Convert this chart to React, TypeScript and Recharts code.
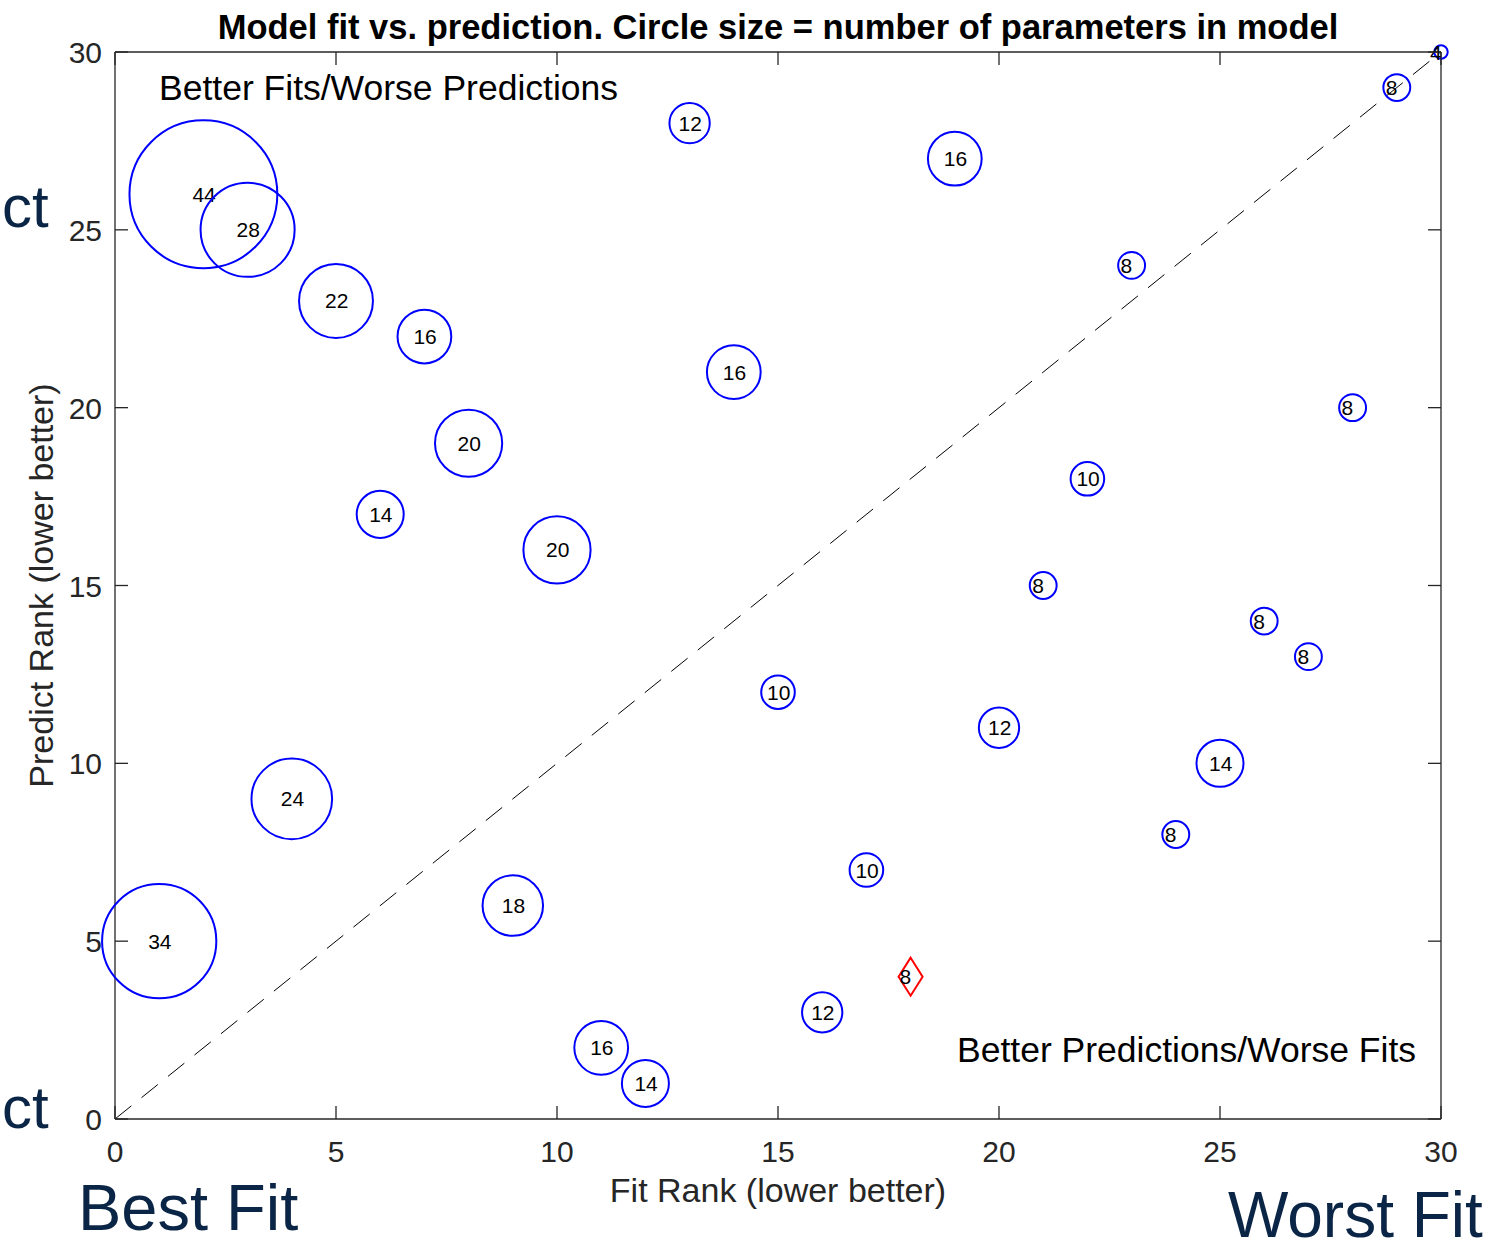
import React from "react";
import { ScatterChart, Scatter, XAxis, YAxis, ReferenceLine } from "recharts";

// ---- data ----
const fitRanks = [1, 2, 3, 4, 5, 6, 7, 8, 9, 10, 11, 12, 13, 14, 15, 16, 17, 18, 19, 20, 21, 22, 23, 24, 25, 26, 27, 28, 29, 30];
const predictRanks = [5, 26, 25, 9, 23, 17, 22, 19, 6, 16, 2, 1, 28, 21, 12, 3, 7, 4, 27, 11, 15, 18, 24, 8, 10, 14, 13, 20, 29, 30];
const paramCounts = [34, 44, 28, 24, 22, 14, 16, 20, 18, 20, 16, 14, 12, 16, 10, 12, 10, 8, 16, 12, 8, 10, 8, 8, 14, 8, 8, 8, 8, 4];
const highlightedFitRank = 18;
const axisTicks = [0, 5, 10, 15, 20, 25, 30];
const axisDomain = [0, 30];
const diagonalEnds = [0, 30];

const titleText = "Model fit vs. prediction. Circle size = number of parameters in model";
const xLabelText = "Fit Rank (lower better)";
const yLabelText = "Predict Rank (lower better)";
const topLeftNote = "Better Fits/Worse Predictions";
const bottomRightNote = "Better Predictions/Worse Fits";
const bestFitText = "Best Fit";
const worstFitText = "Worst Fit";
const cutText = "ct";

const models = fitRanks.map((fit, i) => ({ fit, predict: predictRanks[i], params: paramCounts[i] }));
const circleModels = models.filter((m) => m.fit !== highlightedFitRank);
const highlightModels = models.filter((m) => m.fit === highlightedFitRank);

// ---- layout / style ----
const W = 1499;
const H = 1253;
const PLOT = { left: 115, right: 1441, top: 52, bottom: 1119 };
const X_AXIS_H = 60;
const Y_AXIS_W = 100;
const TOP_AXIS_H = 10;
const RIGHT_AXIS_W = 10;
const M = {
  top: PLOT.top - TOP_AXIS_H,
  right: W - PLOT.right - RIGHT_AXIS_W,
  bottom: H - PLOT.bottom - X_AXIS_H,
  left: PLOT.left - Y_AXIS_W,
};
const FONT = "'Liberation Sans', Arial, Helvetica, sans-serif";
const AXIS_COLOR = "#262626";
const NAVY = "#0b2546";
const PX_PER_PARAM = 1.68;
const TICK_LEN = 13;

const CircleShape = (props: any) => {
  const { cx, cy, payload } = props;
  const r = payload.params * PX_PER_PARAM;
  return (
    <g>
      <circle cx={cx} cy={cy} r={r} fill="none" stroke="#0000ff" strokeWidth={2} />
      <text x={cx - 11} y={cy + 7.5} fontSize={21} fontFamily={FONT} fill="#000">
        {payload.params}
      </text>
    </g>
  );
};

const DiamondShape = (props: any) => {
  const { cx, cy, payload } = props;
  const hw = 12;
  const hh = 19;
  return (
    <g>
      <path
        d={`M${cx},${cy - hh} L${cx + hw},${cy} L${cx},${cy + hh} L${cx - hw},${cy} Z`}
        fill="none"
        stroke="#ff0000"
        strokeWidth={2}
      />
      <text x={cx - 11} y={cy + 7.5} fontSize={21} fontFamily={FONT} fill="#000">
        {payload.params}
      </text>
    </g>
  );
};

const NoShape = () => <g />;

const BottomTick = (props: any) => {
  const { x, y, payload } = props;
  return (
    <g>
      <line x1={x} x2={x} y1={y} y2={y - TICK_LEN} stroke={AXIS_COLOR} strokeWidth={1.3} />
      <text x={x} y={y + 43} textAnchor="middle" fontSize={30} fontFamily={FONT} fill={AXIS_COLOR}>
        {payload.value}
      </text>
    </g>
  );
};

const LeftTick = (props: any) => {
  const { x, y, payload } = props;
  return (
    <g>
      <line x1={x} x2={x + TICK_LEN} y1={y} y2={y} stroke={AXIS_COLOR} strokeWidth={1.3} />
      <text x={x - 13} y={y + 11} textAnchor="end" fontSize={30} fontFamily={FONT} fill={AXIS_COLOR}>
        {payload.value}
      </text>
    </g>
  );
};

const TopTick = (props: any) => {
  const { x, y } = props;
  return <line x1={x} x2={x} y1={y} y2={y + TICK_LEN} stroke={AXIS_COLOR} strokeWidth={1.3} />;
};

const RightTick = (props: any) => {
  const { x, y } = props;
  return <line x1={x} x2={x - TICK_LEN} y1={y} y2={y} stroke={AXIS_COLOR} strokeWidth={1.3} />;
};

export default function App() {
  const plotCx = (PLOT.left + PLOT.right) / 2;
  const plotCy = (PLOT.top + PLOT.bottom) / 2;
  return (
    <div style={{ position: "absolute", left: 0, top: 0, width: W, height: H, background: "#fff" }}>
      <ScatterChart width={W} height={H} margin={M}>
        <XAxis
          dataKey="fit"
          type="number"
          domain={axisDomain}
          ticks={axisTicks}
          interval={0}
          height={X_AXIS_H}
          tickSize={0}
          tickMargin={0}
          tickLine={false}
          tick={<BottomTick />}
          axisLine={{ stroke: AXIS_COLOR, strokeWidth: 1.3 }}
        />
        <YAxis
          dataKey="predict"
          type="number"
          domain={axisDomain}
          ticks={axisTicks}
          interval={0}
          width={Y_AXIS_W}
          tickSize={0}
          tickMargin={0}
          tickLine={false}
          tick={<LeftTick />}
          axisLine={{ stroke: AXIS_COLOR, strokeWidth: 1.3 }}
        />
        <XAxis
          xAxisId="top"
          orientation="top"
          dataKey="fit"
          type="number"
          domain={axisDomain}
          ticks={axisTicks}
          interval={0}
          height={TOP_AXIS_H}
          tickSize={0}
          tickMargin={0}
          tickLine={false}
          tick={<TopTick />}
          axisLine={{ stroke: AXIS_COLOR, strokeWidth: 1.3 }}
        />
        <YAxis
          yAxisId="right"
          orientation="right"
          dataKey="predict"
          type="number"
          domain={axisDomain}
          ticks={axisTicks}
          interval={0}
          width={RIGHT_AXIS_W}
          tickSize={0}
          tickMargin={0}
          tickLine={false}
          tick={<RightTick />}
          axisLine={{ stroke: AXIS_COLOR, strokeWidth: 1.3 }}
        />
        <ReferenceLine
          segment={[
            { x: diagonalEnds[0], y: diagonalEnds[0] },
            { x: diagonalEnds[1], y: diagonalEnds[1] },
          ]}
          stroke="#000"
          strokeWidth={1}
          strokeDasharray="21 13"
        />
        <Scatter
          data={models}
          xAxisId="top"
          yAxisId="right"
          shape={NoShape}
          isAnimationActive={false}
        />
        <Scatter data={circleModels} shape={CircleShape} isAnimationActive={false} />
        <Scatter data={highlightModels} shape={DiamondShape} isAnimationActive={false} />
      </ScatterChart>
      <svg
        width={W}
        height={H}
        style={{ position: "absolute", left: 0, top: 0, pointerEvents: "none" }}
      >
        <text x={plotCx} y={39} textAnchor="middle" fontSize={34.5} fontWeight="bold" fontFamily={FONT} fill="#000">
          {titleText}
        </text>
        <text x={plotCx} y={1202} textAnchor="middle" fontSize={34} fontFamily={FONT} fill={AXIS_COLOR}>
          {xLabelText}
        </text>
        <text
          x={53}
          y={plotCy}
          transform={`rotate(-90 53 ${plotCy})`}
          textAnchor="middle"
          fontSize={34}
          fontFamily={FONT}
          fill={AXIS_COLOR}
        >
          {yLabelText}
        </text>
        <text x={159} y={100} fontSize={35.5} fontFamily={FONT} fill="#000">
          {topLeftNote}
        </text>
        <text x={957} y={1062} fontSize={35.5} fontFamily={FONT} fill="#000">
          {bottomRightNote}
        </text>
        <text x={78} y={1230} fontSize={65} fontFamily={FONT} fill={NAVY}>
          {bestFitText}
        </text>
        <text x={1228} y={1237} fontSize={64} fontFamily={FONT} fill={NAVY}>
          {worstFitText}
        </text>
        <text x={2} y={227} fontSize={60} fontFamily={FONT} fill={NAVY}>
          {cutText}
        </text>
        <text x={2} y={1128} fontSize={60} fontFamily={FONT} fill={NAVY}>
          {cutText}
        </text>
      </svg>
    </div>
  );
}
